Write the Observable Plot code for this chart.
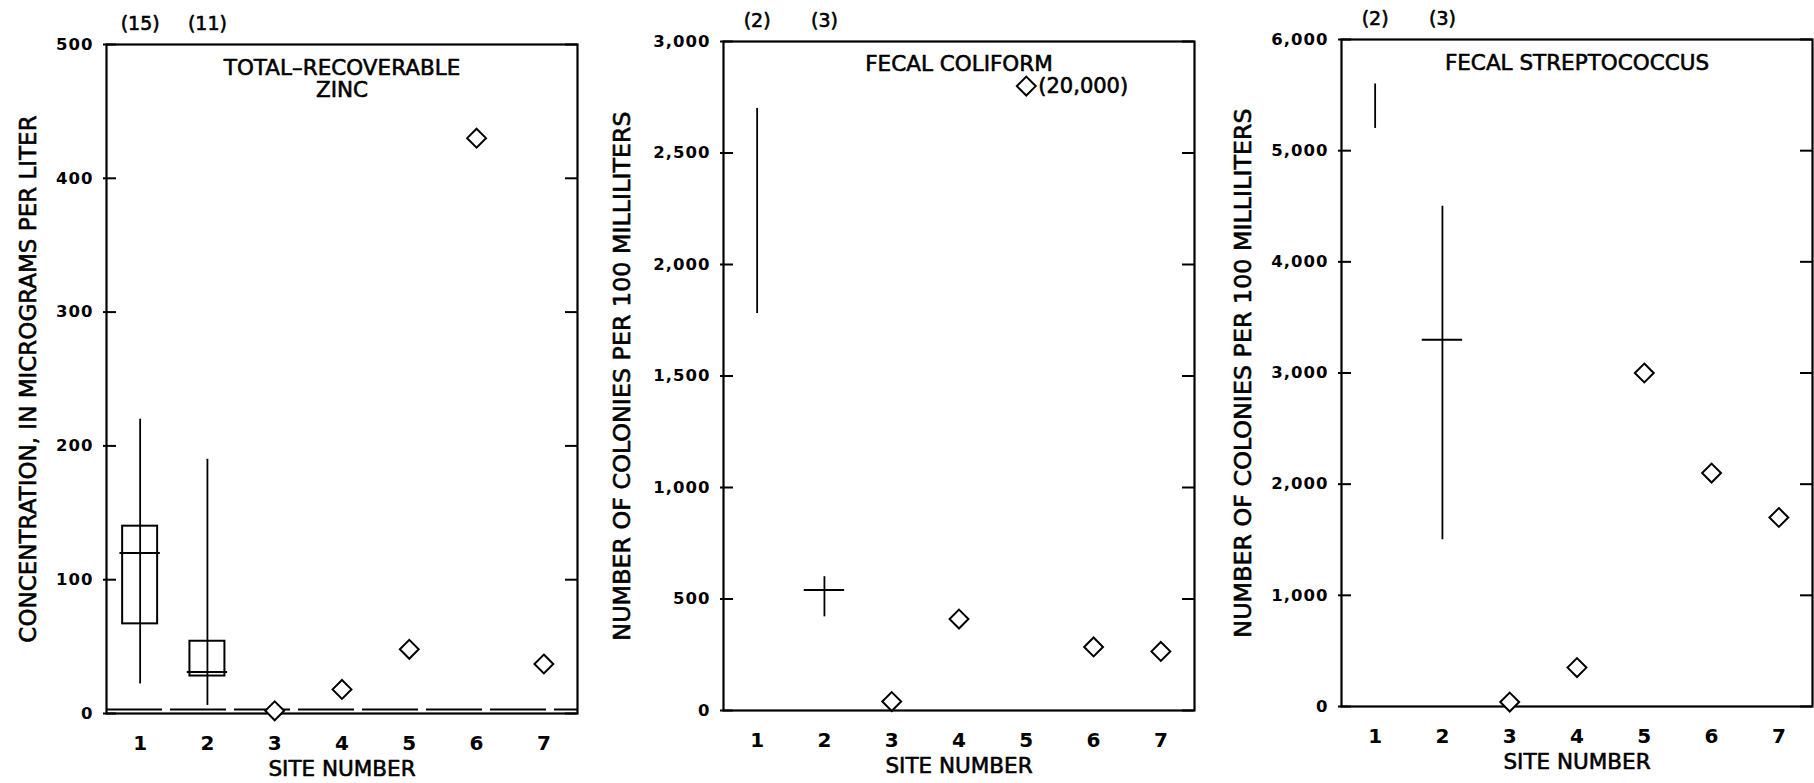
<!DOCTYPE html>
<html>
<head>
<meta charset="utf-8">
<script src="https://cdn.jsdelivr.net/npm/d3@7"></script>
<script src="https://cdn.jsdelivr.net/npm/@observablehq/plot@0.6"></script>
<style>
  body { margin: 0; background: #fff; }
  #charts { position: relative; width: 1814px; height: 783px; }
  #charts > svg { position: absolute; top: 0; overflow: visible; }
  g[aria-label="y-axis tick label"] text { letter-spacing: 1px; }
</style>
</head>
<body>
<div id="charts"></div>
<script>
const sites = [1, 2, 3, 4, 5, 6, 7];

// Total-recoverable zinc, in micrograms per liter
const zincTicks = [0, 100, 200, 300, 400, 500];
const zincBoxSites = [1, 2];
const zincCounts = ["(15)", "(11)"];
const zincMin = [22, 6];
const zincQ1 = [67, 28];
const zincMedian = [120, 31];
const zincQ3 = [140, 54];
const zincMax = [220, 190];
const zincSingleSites = [3, 4, 5, 6, 7];
const zincSingle = [2, 18, 48, 430, 37];
const zincReportingLevel = 3;

// Fecal coliform, colonies per 100 milliliters
const coliformTicks = [0, 500, 1000, 1500, 2000, 2500, 3000];
const coliformRangeSites = [1, 2];
const coliformCounts = ["(2)", "(3)"];
const coliformMin = [1780, 420];
const coliformMax = [2700, 600];
const coliformMedian = [null, 540];
const coliformSingleSites = [3, 4, 5, 6, 7];
const coliformSingle = [40, 410, 20000, 285, 265];
const coliformOffScaleAt = 2800;

// Fecal streptococcus, colonies per 100 milliliters
const strepTicks = [0, 1000, 2000, 3000, 4000, 5000, 6000];
const strepRangeSites = [1, 2];
const strepCounts = ["(2)", "(3)"];
const strepMin = [5200, 1500];
const strepMax = [5600, 4500];
const strepMedian = [null, 3300];
const strepSingleSites = [3, 4, 5, 6, 7];
const strepSingle = [40, 350, 3000, 2100, 1700];

const fmt = d3.format(",");
const FONT = "'DejaVu Sans', sans-serif";
// a thin outline of the same colour gives the lettering its heavier stroke
const ink = {stroke: "black", strokeWidth: 0.6, fill: "black"};

function panel(cfg) {
  const {left, width, marginLeft, marginRight, marginTop, marginBottom,
         ticks, yLabel, yLabelX, yLabelSize, title, titleDy, rangeSites, counts, mins, maxs,
         medians, q1s, q3s, singleSites, singles, offScaleAt, extra = []} = cfg;
  const W = width - marginLeft - marginRight;
  const yMax = ticks[ticks.length - 1];
  const ranges = rangeSites.map((s, i) => ({site: s, min: mins[i], max: maxs[i], count: counts[i],
    median: medians[i], q1: q1s ? q1s[i] : null, q3: q3s ? q3s[i] : null}));
  const withMedian = ranges.filter(d => d.median != null);
  const withBox = ranges.filter(d => d.q1 != null);
  const points = singleSites.map((s, i) => ({site: s, value: singles[i]}));
  const cap = offScaleAt ?? Infinity;
  const offScale = points.filter(d => d.value > cap);

  const chart = Plot.plot({
    width, height: 783, marginLeft, marginRight, marginTop, marginBottom,
    style: {fontFamily: FONT, color: "black", background: "white", overflow: "visible"},
    x: {domain: [0.5, 7.5]},
    y: {domain: [0, yMax]},
    marks: [
      Plot.frame({stroke: "black", strokeWidth: 2.2}),
      // inward tick marks on both sides of the frame
      Plot.tickY(ticks, {y: d => d, insetLeft: -3, insetRight: W - 10, strokeWidth: 2}),
      Plot.tickY(ticks, {y: d => d, insetLeft: W - 12, strokeWidth: 2}),
      Plot.axisY(ticks, {tickSize: 0, tickPadding: 13, tickFormat: fmt, fontSize: 16.5,
        fontWeight: "bold", label: null}),
      Plot.axisX(sites, {tickSize: 0, tickPadding: 22, tickFormat: d => String(d),
        fontSize: 20, fontWeight: "bold", label: null}),
      Plot.text([yLabel], {frameAnchor: "left", textAnchor: "middle", lineAnchor: "middle",
        dx: yLabelX - marginLeft, rotate: -90, fontSize: yLabelSize, ...ink}),
      Plot.text(["SITE NUMBER"], {frameAnchor: "bottom", lineAnchor: "middle", dy: 56,
        fontSize: 21.5, ...ink}),
      Plot.text([title], {frameAnchor: "top", lineAnchor: "top", dy: titleDy,
        fontSize: 21.5, lineHeight: 1.03, ...ink}),
      Plot.text(ranges, {x: "site", text: "count", frameAnchor: "top", lineAnchor: "middle",
        dy: -21, fontSize: 19, ...ink}),
      ...extra,
      Plot.ruleX(ranges, {x: "site", y1: "min", y2: "max", strokeWidth: 1.8}),
      Plot.rect(withBox, {x1: d => d.site - 0.26, x2: d => d.site + 0.26, y1: "q1", y2: "q3",
        fill: "none", stroke: "black", strokeWidth: 2}),
      Plot.ruleY(withMedian, {y: "median", x1: d => d.site - 0.3, x2: d => d.site + 0.3,
        strokeWidth: 2}),
      Plot.dot(points, {x: "site", y: d => Math.min(d.value, cap), symbol: "diamond2", r: 8.5,
        stroke: "black", fill: "white", strokeWidth: 2}),
      Plot.text(offScale, {x: "site", y: () => cap, text: d => `(${fmt(d.value)})`,
        textAnchor: "start", dx: 12, fontSize: 21, ...ink})
    ]
  });
  chart.style.left = left + "px";
  document.getElementById("charts").append(chart);
}

panel({
  left: 0, width: 600, marginLeft: 106, marginRight: 23, marginTop: 44, marginBottom: 70,
  ticks: zincTicks, yLabel: "CONCENTRATION, IN MICROGRAMS PER LITER", yLabelX: 28, yLabelSize: 23,
  title: "TOTAL\u2013RECOVERABLE\nZINC", titleDy: 15,
  rangeSites: zincBoxSites, counts: zincCounts, mins: zincMin, maxs: zincMax,
  medians: zincMedian, q1s: zincQ1, q3s: zincQ3,
  singleSites: zincSingleSites, singles: zincSingle,
  extra: [Plot.ruleY([zincReportingLevel], {strokeDasharray: "56,8", strokeWidth: 2})]
});

panel({
  left: 600, width: 620, marginLeft: 123, marginRight: 26, marginTop: 41, marginBottom: 73,
  ticks: coliformTicks, yLabel: "NUMBER OF COLONIES PER 100 MILLILITERS", yLabelX: 22, yLabelSize: 23.8,
  title: "FECAL COLIFORM", titleDy: 14,
  rangeSites: coliformRangeSites, counts: coliformCounts, mins: coliformMin, maxs: coliformMax,
  medians: coliformMedian,
  singleSites: coliformSingleSites, singles: coliformSingle, offScaleAt: coliformOffScaleAt
});

panel({
  left: 1220, width: 594, marginLeft: 121, marginRight: 2, marginTop: 39, marginBottom: 77,
  ticks: strepTicks, yLabel: "NUMBER OF COLONIES PER 100 MILLILITERS", yLabelX: 23, yLabelSize: 23.8,
  title: "FECAL STREPTOCOCCUS", titleDy: 15,
  rangeSites: strepRangeSites, counts: strepCounts, mins: strepMin, maxs: strepMax,
  medians: strepMedian,
  singleSites: strepSingleSites, singles: strepSingle
});
</script>
</body>
</html>
